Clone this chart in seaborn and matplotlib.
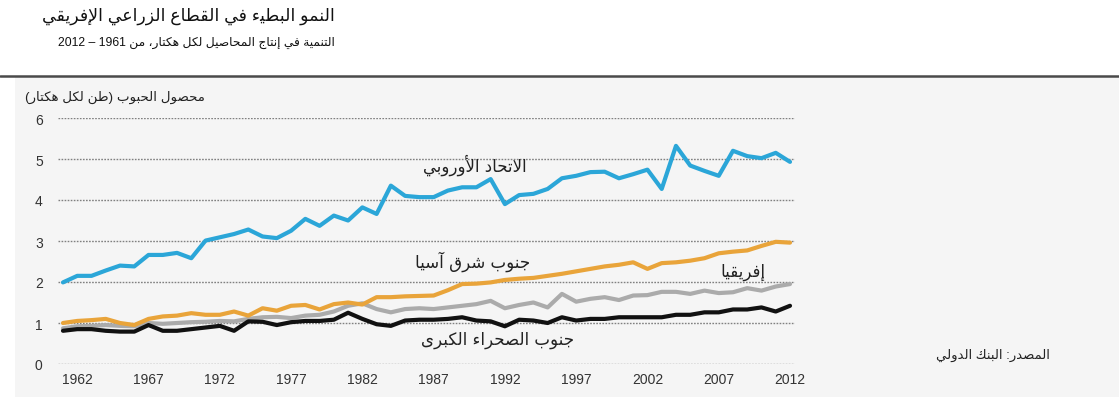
import matplotlib
matplotlib.use('Agg')
import matplotlib.pyplot as plt
from matplotlib.patches import Rectangle
from matplotlib.lines import Line2D
import seaborn as sns
import pandas as pd
import re

# ---- données (rendement céréalier, tonnes / hectare) ----
years = list(range(1961, 2013))

eu = [1.99, 2.15, 2.15, 2.28, 2.40, 2.38, 2.66, 2.66, 2.71, 2.58,
      3.01, 3.09, 3.17, 3.28, 3.11, 3.07, 3.25, 3.54, 3.37, 3.62,
      3.50, 3.82, 3.66, 4.35, 4.10, 4.07, 4.07, 4.23, 4.31, 4.31,
      4.51, 3.90, 4.12, 4.15, 4.27, 4.53, 4.59, 4.68, 4.69, 4.53,
      4.63, 4.74, 4.27, 5.32, 4.84, 4.71, 4.59, 5.20, 5.07, 5.02,
      5.15, 4.93]
se_asia = [1.00, 1.05, 1.07, 1.10, 1.00, 0.95, 1.10, 1.16, 1.18, 1.24,
           1.20, 1.20, 1.28, 1.18, 1.36, 1.30, 1.42, 1.44, 1.33, 1.46,
           1.50, 1.45, 1.63, 1.63, 1.65, 1.66, 1.67, 1.80, 1.95, 1.96,
           1.99, 2.05, 2.08, 2.10, 2.15, 2.20, 2.26, 2.32, 2.38, 2.42,
           2.48, 2.32, 2.46, 2.48, 2.52, 2.58, 2.70, 2.74, 2.77, 2.88,
           2.98, 2.96]
africa = [0.87, 0.92, 0.93, 0.95, 0.93, 0.92, 1.00, 0.98, 1.00, 1.02,
          1.03, 1.05, 1.04, 1.10, 1.14, 1.15, 1.12, 1.18, 1.20, 1.28,
          1.42, 1.48, 1.34, 1.26, 1.34, 1.36, 1.34, 1.38, 1.42, 1.46,
          1.54, 1.36, 1.44, 1.50, 1.38, 1.71, 1.52, 1.59, 1.63, 1.56,
          1.67, 1.68, 1.76, 1.76, 1.71, 1.79, 1.73, 1.75, 1.85, 1.79,
          1.89, 1.95]
ssa = [0.81, 0.85, 0.85, 0.81, 0.79, 0.79, 0.95, 0.81, 0.81, 0.85,
       0.89, 0.93, 0.81, 1.04, 1.03, 0.95, 1.02, 1.05, 1.05, 1.08,
       1.25, 1.10, 0.97, 0.93, 1.06, 1.08, 1.08, 1.10, 1.14, 1.06,
       1.04, 0.92, 1.08, 1.06, 1.00, 1.14, 1.06, 1.10, 1.10, 1.14,
       1.14, 1.14, 1.14, 1.20, 1.20, 1.26, 1.26, 1.33, 1.33, 1.38,
       1.28, 1.42]

series_names = ['إفريقيا', 'جنوب الصحراء الكبرى', 'جنوب شرق آسيا', 'الاتحاد الأوروبي']
series_values = [africa, ssa, se_asia, eu]
series_colors = ['#ababab', '#111111', '#e9a43a', '#2ba6d8']

x_ticks = list(range(1962, 2013, 5))
y_ticks = [0, 1, 2, 3, 4, 5, 6]

title = 'النمو البطيء في القطاع الزراعي الإفريقي'
subtitle = 'التنمية في إنتاج المحاصيل لكل هكتار، من 1961 – 2012'
y_label = 'محصول الحبوب (طن لكل هكتار)'
source = 'المصدر: البنك الدولي'

# position des étiquettes de série (année, valeur)
label_pos = {'الاتحاد الأوروبي': (1989.9, 4.88),
             'جنوب شرق آسيا': (1989.7, 2.51),
             'إفريقيا': (2008.7, 2.27),
             'جنوب الصحراء الكبرى': (1991.5, 0.61)}


# ---- mise en forme de l'arabe (matplotlib ne gère ni la liaison ni le sens RTL) ----
FOUR = {'ئ': 0xFE89, 'ب': 0xFE8F, 'ت': 0xFE95, 'ث': 0xFE99, 'ج': 0xFE9D,
        'ح': 0xFEA1, 'خ': 0xFEA5, 'س': 0xFEB1, 'ش': 0xFEB5, 'ص': 0xFEB9,
        'ض': 0xFEBD, 'ط': 0xFEC1, 'ظ': 0xFEC5, 'ع': 0xFEC9, 'غ': 0xFECD,
        'ف': 0xFED1, 'ق': 0xFED5, 'ك': 0xFED9, 'ل': 0xFEDD, 'م': 0xFEE1,
        'ن': 0xFEE5, 'ه': 0xFEE9, 'ي': 0xFEF1}
TWO = {'آ': 0xFE81, 'أ': 0xFE83, 'ؤ': 0xFE85, 'إ': 0xFE87, 'ا': 0xFE8D,
       'ة': 0xFE93, 'د': 0xFEA9, 'ذ': 0xFEAB, 'ر': 0xFEAD, 'ز': 0xFEAF,
       'و': 0xFEED, 'ى': 0xFEEF}
ONE = {'ء': 0xFE80}
LAM_ALEF = {'آ': 0xFEF5, 'أ': 0xFEF7, 'إ': 0xFEF9, 'ا': 0xFEFB}
MIRROR = {'(': ')', ')': '('}


def shape(text):
    # regrouper lam-alef
    units = []
    i = 0
    while i < len(text):
        c = text[i]
        if c == 'ل' and i + 1 < len(text) and text[i + 1] in LAM_ALEF:
            units.append(('LA', text[i + 1]))
            i += 2
        else:
            units.append(('C', c))
            i += 1

    def is_ar(u):
        return u[0] == 'LA' or u[1] in FOUR or u[1] in TWO or u[1] in ONE

    def joins_next(u):
        return u[0] == 'C' and u[1] in FOUR

    out = []
    for k, u in enumerate(units):
        prev = units[k - 1] if k > 0 else None
        nxt = units[k + 1] if k + 1 < len(units) else None
        left = prev is not None and joins_next(prev) and is_ar(u)
        if u[0] == 'LA':
            base = LAM_ALEF[u[1]]
            out.append(chr(base + (1 if left else 0)))
            continue
        c = u[1]
        right = nxt is not None and is_ar(nxt) and c in FOUR
        if c in FOUR:
            base = FOUR[c]
            if left and right:
                out.append(chr(base + 3))
            elif right:
                out.append(chr(base + 2))
            elif left:
                out.append(chr(base + 1))
            else:
                out.append(chr(base))
        elif c in TWO:
            out.append(chr(TWO[c] + (1 if left else 0)))
        elif c in ONE:
            out.append(chr(ONE[c]))
        else:
            out.append(c)
    shaped = ''.join(out)

    # ordre visuel : inverser, en gardant les nombres de gauche à droite
    runs = re.findall(r'[0-9A-Za-z.]+|[^0-9A-Za-z.]+', shaped)
    vis = []
    for r in reversed(runs):
        if re.match(r'[0-9A-Za-z.]', r):
            vis.append(r)
        else:
            vis.append(''.join(MIRROR.get(ch, ch) for ch in reversed(r)))
    return ''.join(vis)


# ---- tableau long pour seaborn ----
rows = []
for name, vals in zip(series_names, series_values):
    for y, v in zip(years, vals):
        rows.append({'year': y, 'value': v, 'region': name})
df = pd.DataFrame(rows)

sns.set_theme(style='white')
plt.rcParams['font.family'] = ['Liberation Sans', 'DejaVu Sans']

fig = plt.figure(figsize=(11.19, 4.02), dpi=100, facecolor='white')

# fond gris et filet supérieur
fig.patches.append(Rectangle((15 / 1119, 4 / 402), 1 - 15 / 1119, (402 - 78 - 4) / 402,
                             transform=fig.transFigure, facecolor='#f5f5f5',
                             edgecolor='none', zorder=-5))
fig.lines.append(Line2D([0, 1], [1 - 77 / 402, 1 - 77 / 402], transform=fig.transFigure,
                        color='#4a4a4a', lw=1.8, zorder=-4))

ax = fig.add_axes([58 / 1119, 37 / 402, 737 / 1119, 246 / 402])
ax.set_facecolor('none')
ax.set_zorder(1)

sns.lineplot(data=df, x='year', y='value', hue='region', hue_order=series_names,
             palette=dict(zip(series_names, series_colors)), linewidth=3.0,
             legend=False, ax=ax, clip_on=False)

ax.set_xlim(1960.65, 2012.35)
ax.set_ylim(0, 6)
ax.set_xticks(x_ticks)
ax.set_yticks(y_ticks)
ax.set_xlabel('')
ax.set_ylabel('')
for s in ax.spines.values():
    s.set_visible(False)
ax.grid(axis='y', color='#808080', linestyle=(0, (1.2, 1.0)), linewidth=1.0)
ax.set_axisbelow(True)
ax.tick_params(axis='both', length=0, labelsize=10, labelcolor='#333333')
ax.tick_params(axis='y', pad=11)
ax.tick_params(axis='x', pad=6)

for name, (lx, ly) in label_pos.items():
    ax.text(lx, ly, shape(name), ha='center', va='center', fontsize=12,
            color='#222222', family=['DejaVu Sans'])

fig.text(335 / 1119, 1 - 16 / 402, shape(title), ha='right', va='center',
         fontsize=12.5, color='#111111')
fig.text(335 / 1119, 1 - 43 / 402, shape(subtitle), ha='right', va='center',
         fontsize=8.8, color='#111111')
fig.text(205 / 1119, 1 - 97 / 402, shape(y_label), ha='right', va='center',
         fontsize=9.6, color='#222222')
fig.text(1050 / 1119, 1 - 355 / 402, shape(source), ha='right', va='center',
         fontsize=9.5, color='#222222')

fig.savefig('out.png', dpi=100, facecolor='white')
